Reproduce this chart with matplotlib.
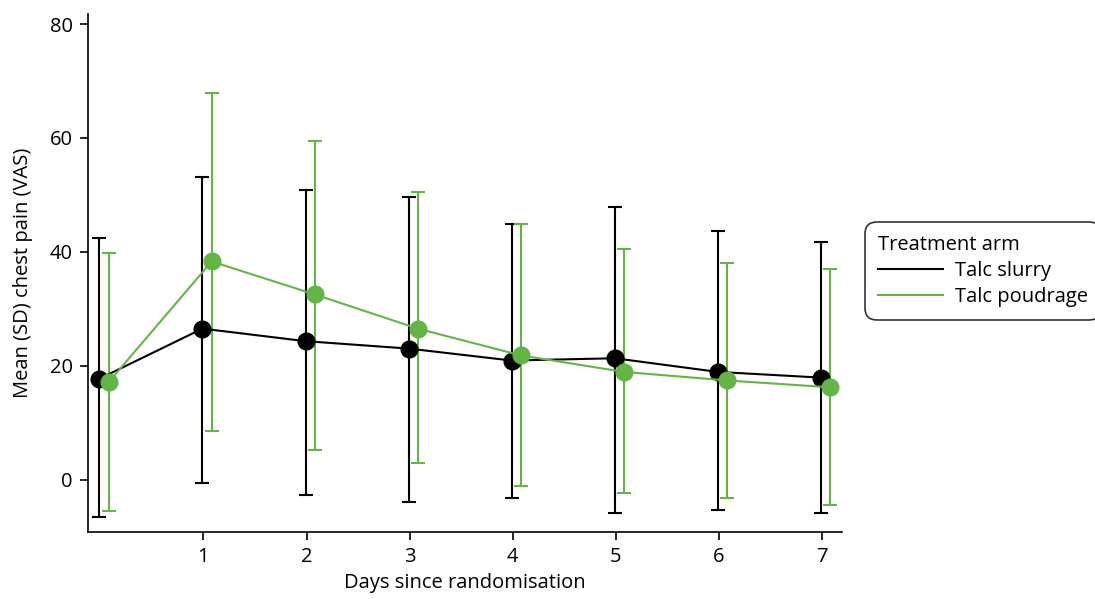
import matplotlib.pyplot as plt
import numpy as np
from matplotlib.lines import Line2D

plt.rcParams['font.family'] = ['Open Sans', 'DejaVu Sans']

days = [0, 1, 2, 3, 4, 5, 6, 7]

# Talc slurry: mean, upper (mean+SD), lower (mean-SD)
slurry_mean = [17.7, 26.5, 24.3, 23.0, 20.9, 21.3, 18.9, 17.9]
slurry_upper = [42.4, 53.1, 50.9, 49.7, 44.8, 47.8, 43.6, 41.7]
slurry_lower = [-6.6, -0.6, -2.8, -4.0, -3.3, -5.9, -5.4, -5.9]

# Talc poudrage
poudrage_mean = [17.1, 38.3, 32.5, 26.5, 21.8, 18.9, 17.4, 16.2]
poudrage_upper = [39.8, 67.8, 59.4, 50.5, 44.9, 40.5, 38.1, 37.0]
poudrage_lower = [-5.5, 8.5, 5.2, 2.9, -1.2, -2.3, -3.3, -4.5]

x_ticks = [1, 2, 3, 4, 5, 6, 7]
y_ticks = [0, 20, 40, 60, 80]

black = '#000000'
green = '#63b546'
fs = 14.5

fig = plt.figure(figsize=(10.95, 5.99), dpi=100)
ax = fig.add_axes([0.0804, 0.112, 0.689, 0.865])


def draw_series(x, mean, upper, lower, color, label):
    mean = np.array(mean)
    yerr = [mean - np.array(lower), np.array(upper) - mean]
    ax.errorbar(x, mean, yerr=yerr, color=color, lw=1.5, elinewidth=1.5,
                capsize=5, capthick=1.5, marker='o', markersize=12,
                label=label)


draw_series(np.array(days) - 0.01, slurry_mean, slurry_upper, slurry_lower,
            black, 'Talc slurry')
draw_series(np.array(days) + 0.08, poudrage_mean, poudrage_upper,
            poudrage_lower, green, 'Talc poudrage')

ax.set_xlim(-0.12, 7.2)
ax.set_ylim(-9.2, 81.8)
ax.set_xticks(x_ticks)
ax.set_yticks(y_ticks)
ax.tick_params(labelsize=fs, width=1.2, length=6, pad=5)
ax.spines['top'].set_visible(False)
ax.spines['right'].set_visible(False)
ax.spines['left'].set_linewidth(1.2)
ax.spines['bottom'].set_linewidth(1.2)
ax.set_xlabel('Days since randomisation', fontsize=fs, labelpad=4)
ax.set_ylabel('Mean (SD) chest pain (VAS)', fontsize=fs, labelpad=12)

handles = [Line2D([], [], color=black, lw=1.5),
           Line2D([], [], color=green, lw=1.5)]
leg = fig.legend(handles, ['Talc slurry', 'Talc poudrage'],
                 title='Treatment arm', loc='upper left',
                 bbox_to_anchor=(0.79, 0.63), borderaxespad=0,
                 fontsize=fs, title_fontsize=fs, frameon=True,
                 fancybox=True, handlelength=3.2, handletextpad=0.6,
                 borderpad=0.65, labelspacing=0.3)
leg._legend_box.align = 'left'
frame = leg.get_frame()
frame.set_edgecolor('black')
frame.set_linewidth(1.2)
frame.set_boxstyle('round,pad=0,rounding_size=0.6')

fig.savefig('out.png', dpi=100)
